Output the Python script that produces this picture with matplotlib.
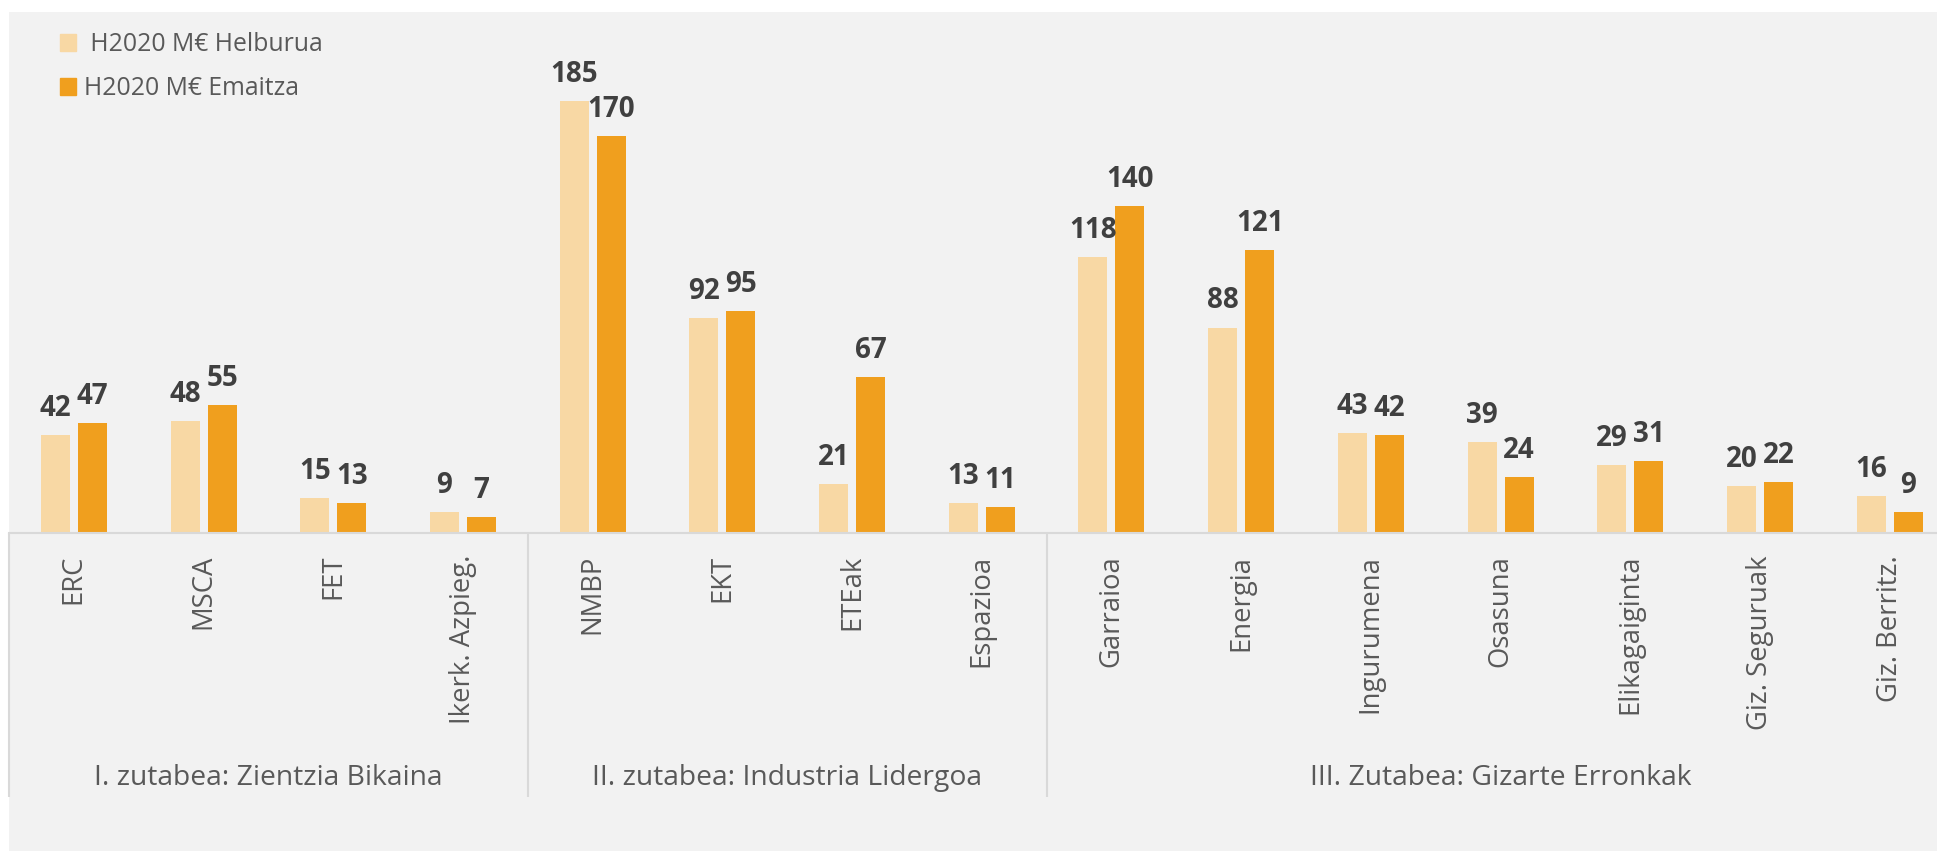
import numpy as np
import matplotlib.pyplot as plt
from matplotlib.patches import Patch, Rectangle

# H2020 data, M€
categories = ["ERC", "MSCA", "FET", "Ikerk. Azpieg.",
              "NMBP", "EKT", "ETEak", "Espazioa",
              "Garraioa", "Energia", "Ingurumena", "Osasuna",
              "Elikagaiginta", "Giz. Seguruak", "Giz. Berritz."]
helburua = [42, 48, 15, 9, 185, 92, 21, 13, 118, 88, 43, 39, 29, 20, 16]
emaitza = [47, 55, 13, 7, 170, 95, 67, 11, 140, 121, 42, 24, 31, 22, 9]
groups = ["I. zutabea: Zientzia Bikaina",
          "II. zutabea: Industria Lidergoa",
          "III. Zutabea: Gizarte Erronkak"]
group_sizes = [4, 4, 7]
series_names = [" H2020 M€ Helburua", "H2020 M€ Emaitza"]

W, H = 1937, 851
light = "#F8D8A4"
dark = "#F09F1E"
grid_col = "#D9D9D9"

plt.rcParams['font.family'] = ['Open Sans', 'DejaVu Sans']

fig = plt.figure(figsize=(W / 100, H / 100), dpi=100, facecolor="white")
fig.patches.append(Rectangle((9 / W, 0), 1, (H - 12) / H, transform=fig.transFigure,
                             facecolor="#F2F2F2", edgecolor="none", zorder=-10))

# plot area: baseline at y=533px, 129.7px per category (runs past the right edge)
step = 129.7
ymax = 200
ppu = 2.335
ax = fig.add_axes([9 / W, (H - 533) / H, 15 * step / W, ymax * ppu / H])
ax.set_facecolor("none")

x = np.arange(len(categories))
bw = 29 / step
off = 18.5 / step
ax.bar(x - off, helburua, bw, color=light, zorder=2)
ax.bar(x + off, emaitza, bw, color=dark, zorder=2)

for xi, v in zip(x - off, helburua):
    ax.annotate(str(v), (xi, v), xytext=(0, 13.7), textcoords="offset points",
                ha="center", va="baseline", fontsize=20, fontweight="bold", color="#404040")
for xi, v in zip(x + off, emaitza):
    ax.annotate(str(v), (xi, v), xytext=(0, 13.7), textcoords="offset points",
                ha="center", va="baseline", fontsize=20, fontweight="bold", color="#404040")

ax.set_xlim(-0.5, len(categories) - 0.5)
ax.set_ylim(0, ymax)
ax.set_yticks([])
ax.set_xticks(x)
ax.set_xticklabels(categories, rotation=90, ha="center", va="top",
                   fontsize=19.8, color="#595959")
ax.tick_params(axis="x", length=0, pad=15.8)
for s in ["top", "right", "left"]:
    ax.spines[s].set_visible(False)
ax.spines["bottom"].set_color(grid_col)
ax.spines["bottom"].set_linewidth(1.5)

# group separators and group labels
depth = -(797 - 533) / (ymax * ppu)
label_y = -(778 - 533) / (ymax * ppu)
edges = np.concatenate([[0], np.cumsum(group_sizes)]) - 0.5
ax.vlines(edges[:-1], depth, 0, transform=ax.get_xaxis_transform(),
          color=grid_col, lw=1.5, clip_on=False)
for name, a, b in zip(groups, edges[:-1], edges[1:]):
    ax.text((a + b) / 2, label_y, name, transform=ax.get_xaxis_transform(),
            ha="center", va="center", fontsize=20.3, color="#595959")

handles = [Patch(color=light), Patch(color=dark)]
fig.legend(handles, series_names, loc="upper left", bbox_to_anchor=(60 / W, 1 - 32 / H),
           frameon=False, fontsize=17.8, labelcolor="#595959",
           handlelength=0.66, handleheight=0.66, handletextpad=0.33,
           labelspacing=0.78, borderaxespad=0, borderpad=0)

fig.savefig("out.png", dpi=100, facecolor="white")
